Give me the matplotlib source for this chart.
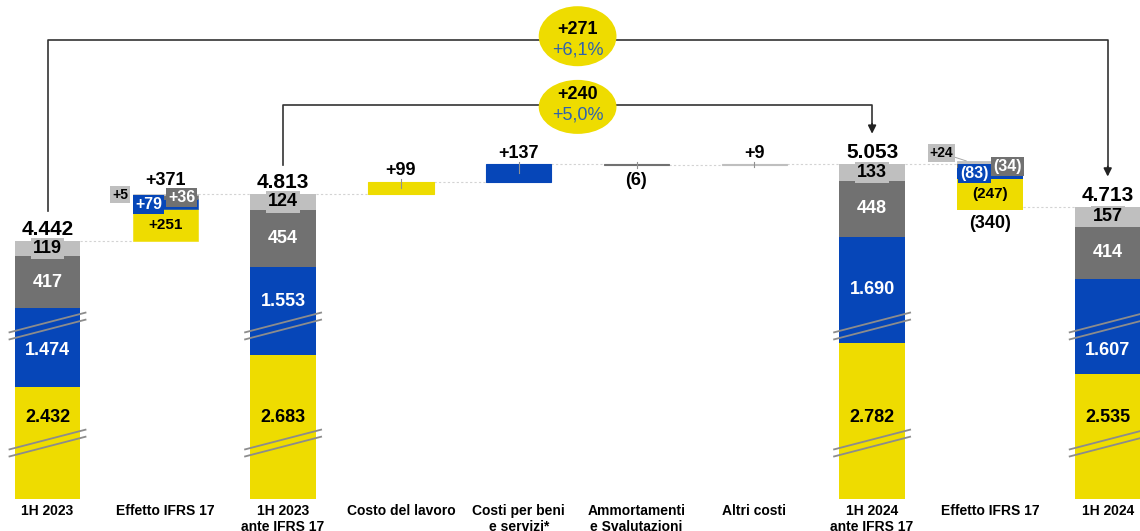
import matplotlib
matplotlib.use('Agg')
import matplotlib.pyplot as plt
from matplotlib.patches import Ellipse

plt.rcParams['font.family'] = ['Liberation Sans', 'DejaVu Sans']

# --- data (EUR m) ---
categories = ['1H 2023', 'Effetto IFRS 17', '1H 2023\nante IFRS 17', 'Costo del lavoro',
              'Costi per beni\ne servizi*', 'Ammortamenti\ne Svalutazioni', 'Altri costi',
              '1H 2024\nante IFRS 17', 'Effetto IFRS 17', '1H 2024']
total_idx = [0, 2, 7, 9]
totals = [4442, 4813, 5053, 4713]
staff = [2432, 2683, 2782, 2535]          # yellow
services = [1474, 1553, 1690, 1607]       # blue
amort = [417, 454, 448, 414]              # dark grey
other = [119, 124, 133, 157]              # light grey

ifrs_2023 = [251, 79, 36, 5]              # yellow, blue, dark, light
ifrs_2024 = [-247, -83, -34, 24]
delta_idx = [3, 4, 5, 6]
deltas = [99, 137, -6, 9]

YELLOW, BLUE, DARK, LIGHT = '#EEDC00', '#0646B8', '#717171', '#BFBFBF'
COLS = [YELLOW, BLUE, DARK, LIGHT]
TXT = ['black', 'white', 'white', 'black']
PCT_BLUE = '#2E62AE'

# --- broken axis layout ---
S = 0.126            # px per unit
PX = 1 / S           # units per px
CUT_Y, CUT_B = 1544, 850
CUT = CUT_Y + CUT_B
W = 0.555


def lift(v):
    return v - CUT


def it(v):
    return f'{abs(v):,}'.replace(',', '.')


def sgn(v):
    return f'+{it(v)}' if v > 0 else f'({it(v)})'


fig = plt.figure(figsize=(11.4, 5.31), dpi=100)
ax = fig.add_axes([0, 0, 1, 1])
ax.set_xlim(-47.5 / 117.8, (1140 - 47.5) / 117.8)
ax.set_ylim(-32 * PX, 499 * PX)
ax.axis('off')

# --- total bars (stacked, broken) ---
blue_lab_px = [351, 302, 290, 351]
for k, i in enumerate(total_idx):
    hs = [staff[k] - CUT_Y, services[k] - CUT_B, amort[k], other[k]]
    b = 0
    mids = []
    for h, c in zip(hs, COLS):
        ax.bar(i, h, bottom=b, width=W, color=c, lw=0, zorder=2)
        mids.append(b + h / 2)
        b += h
    ax.text(i, (499 - 417) * PX, it(staff[k]), ha='center', va='center',
            fontsize=13, weight='bold', color='black', zorder=5)
    ax.text(i, (499 - blue_lab_px[k]) * PX, it(services[k]), ha='center', va='center',
            fontsize=13, weight='bold', color='white', zorder=5)
    ax.text(i, mids[2], it(amort[k]), ha='center', va='center',
            fontsize=13, weight='bold', color='white', zorder=5)
    ax.text(i, mids[3], it(other[k]), ha='center', va='center', fontsize=13,
            weight='bold', color='black', zorder=5,
            bbox=dict(boxstyle='square,pad=0.12', fc=LIGHT, ec='none'))
    ax.annotate(it(totals[k]), (i, lift(totals[k])), xytext=(0, 4.5),
                textcoords='offset points', ha='center', va='baseline',
                fontsize=15, weight='bold')
    # break marks
    for c in (444, 1373):
        for d in (-28, 28):
            ax.plot([i - 0.33, i + 0.33], [c + d - 80, c + d + 80],
                    color='#8C8C8C', lw=1.3, zorder=4, solid_capstyle='butt')

# --- IFRS 17 effect bars ---
def ifrs_bar(i, start, comps):
    order = [3, 2, 1, 0] if comps[0] < 0 else [0, 1, 2, 3]
    mids = {}
    lvl = start
    if comps[0] < 0:
        # positive light grey on top, negatives below
        ax.bar(i, comps[3], bottom=lift(start), width=W, color=COLS[3], ec=COLS[3], lw=0.6, zorder=2)
        mids[3] = lift(start + comps[3] / 2)
        for j in (2, 1, 0):
            ax.bar(i, comps[j], bottom=lift(lvl), width=W, color=COLS[j], lw=0, zorder=2)
            mids[j] = lift(lvl + comps[j] / 2)
            lvl += comps[j]
        return mids, lift(lvl), lift(start + comps[3])
    for j in order:
        ax.bar(i, comps[j], bottom=lift(lvl), width=W, color=COLS[j], ec=COLS[j], lw=0.4, zorder=2)
        mids[j] = lift(lvl + comps[j] / 2)
        lvl += comps[j]
    return mids, lift(start), lift(lvl)


box = dict(boxstyle='square,pad=0.12', ec='none')
m, lo, hi = ifrs_bar(1, totals[0], ifrs_2023)
ax.text(1, m[0], sgn(ifrs_2023[0]), ha='center', va='center', fontsize=11, weight='bold', zorder=5)
ax.text(1 - 0.14, m[1], sgn(ifrs_2023[1]), ha='center', va='center', fontsize=11.5,
        weight='bold', color='white', zorder=6, bbox={**box, 'fc': BLUE})
ax.text(1 + 0.14, m[2], sgn(ifrs_2023[2]), ha='center', va='center', fontsize=11.5,
        weight='bold', color='white', zorder=6, bbox={**box, 'fc': DARK})
ax.text(1 - 0.385, m[3], sgn(ifrs_2023[3]), ha='center', va='center', fontsize=10,
        weight='bold', color='black', zorder=6, bbox={**box, 'fc': LIGHT})
ax.annotate(sgn(sum(ifrs_2023)), (1, hi), xytext=(0, 6.5), textcoords='offset points',
            ha='center', va='baseline', fontsize=13, weight='bold')

m, lo, hi = ifrs_bar(8, totals[2], ifrs_2024)
ax.text(8, m[0], sgn(ifrs_2024[0]), ha='center', va='center', fontsize=11, weight='bold', zorder=5)
ax.text(8 - 0.13, m[1], sgn(ifrs_2024[1]), ha='center', va='center', fontsize=11.5,
        weight='bold', color='white', zorder=6, bbox={**box, 'fc': BLUE})
ax.text(8 + 0.15, m[2], sgn(ifrs_2024[2]), ha='center', va='center', fontsize=11.5,
        weight='bold', color='white', zorder=6, bbox={**box, 'fc': DARK})
ax.annotate(sgn(ifrs_2024[3]), xy=(8 - 0.2, hi), xytext=(8 - 0.41, hi + 8 * PX),
            ha='center', va='center', fontsize=10, weight='bold', zorder=6,
            bbox={**box, 'fc': LIGHT},
            arrowprops=dict(arrowstyle='-', color='#A6A6A6', lw=0.7, shrinkA=0, shrinkB=0))
ax.annotate(sgn(sum(ifrs_2024)), (8, lo), xytext=(0, -3.5), textcoords='offset points',
            ha='center', va='top', fontsize=13, weight='bold')

# --- cost deltas ---
lvl = totals[1]
ends = {0: totals[0], 1: totals[0] + sum(ifrs_2023), 2: totals[1]}
for i, v, c in zip(delta_idx, deltas, COLS):
    ax.bar(i, v, bottom=lift(lvl), width=W, color=c, ec=c, lw=0.8, zorder=2)
    top = max(lvl, lvl + v)
    mid = lvl + v / 2
    ax.plot([i, i], [lift(top) + 20, lift(min(mid, top - 25))], color='#909090', lw=0.8, zorder=3)
    if v > 0:
        ax.annotate(sgn(v), (i, lift(top)), xytext=(0, 4.5), textcoords='offset points',
                    ha='center', va='baseline', fontsize=13, weight='bold')
    else:
        ax.annotate(sgn(v), (i, lift(lvl + v)), xytext=(0, -5), textcoords='offset points',
                    ha='center', va='top', fontsize=13, weight='bold')
    lvl += v
    ends[i] = lvl
ends[7] = totals[2]
ends[8] = totals[2] + sum(ifrs_2024)

# dotted connectors
for i in range(9):
    ax.plot([i + W / 2, i + 1 - W / 2], [lift(ends[i])] * 2, color='#D3D3D3',
            lw=0.8, ls=(0, (2, 2)), zorder=1)

# --- brackets with change bubbles ---
top_level = lift(max(totals))
brackets = [(0, 3, top_level + 984, 30), (1, 2, top_level + 468, -15)]
for a, b, y, eoff in brackets:
    xa, xb = total_idx[a], total_idx[b]
    ya = lift(totals[a]) + 235
    yb = lift(totals[b]) + 240
    ax.plot([xa, xa, xb, xb], [ya, y, y, yb + 60], color='#333333', lw=1.2, zorder=3)
    ax.annotate('', xy=(xb, yb), xytext=(xb, yb + 80),
                arrowprops=dict(arrowstyle='-|>', color='#222222', lw=1.2,
                                mutation_scale=12, shrinkA=0, shrinkB=0))
    xm = (xa + xb) / 2
    h = 60 if eoff > 0 else 54
    ax.add_patch(Ellipse((xm, y + eoff), 0.66, h * PX, fc=YELLOW, ec='none', zorder=4))
    diff = totals[b] - totals[a]
    pct = f'+{diff / totals[a] * 100:.1f}%'.replace('.', ',')
    ax.text(xm, y + 10 * PX, sgn(diff), ha='center', va='center', fontsize=13,
            weight='bold', zorder=5)
    ax.text(xm, y - 10 * PX, pct, ha='center', va='center', fontsize=13,
            color=PCT_BLUE, zorder=5)

# --- category labels ---
for i, lab in enumerate(categories):
    ax.text(i, -5 * PX, lab, ha='center', va='top', fontsize=10, weight='bold',
            linespacing=1.15)

fig.savefig('out.png', dpi=100)
